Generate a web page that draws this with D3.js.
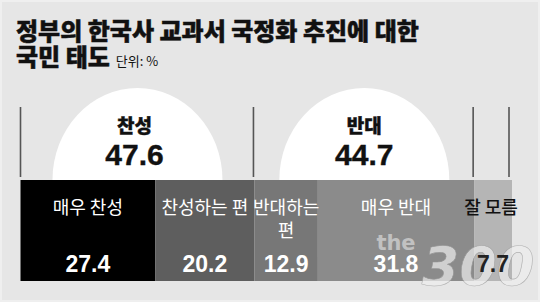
<!DOCTYPE html>
<html>
<head>
<meta charset="utf-8">
<script src="https://cdn.jsdelivr.net/npm/d3@7"></script>
<style>
  body { margin: 0; background: #e6e6e6; }
  svg { display: block; }
  .kr { font-family: "Noto Sans CJK KR", "Noto Sans", sans-serif; }
  .num { font-family: "Liberation Sans Narrow", "Liberation Sans", Arial, sans-serif; font-weight: bold; }
</style>
</head>
<body>
<div id="chart"></div>
<script>
// data
const titleLines = ["정부의 한국사 교과서 국정화 추진에 대한", "국민 태도"];
const unitLabel = "단위: %";
const categories = ["매우 찬성", "찬성하는 편", "반대하는 편", "매우 반대", "잘 모름"];
const labelLines = [["매우 찬성"], ["찬성하는 편"], ["반대하는", "편"], ["매우 반대"], ["잘 모름"]];
const values = [27.4, 20.2, 12.9, 31.8, 7.7];
const groups = ["찬성", "반대"];
const groupValues = [47.6, 44.7];
const groupMembers = [[0, 1], [2, 3]];

const segColors = ["#000000", "#5e5e5e", "#777777", "#8b8b8b", "#b5b5b5"];
const labelColors = ["#fff", "#fff", "#fff", "#fff", "#111"];
const valueColors = ["#fff", "#fff", "#fff", "#fff", "#222"];

const width = 540, height = 302;
const barTop = 180, barBottom = 281;

const svg = d3.select("#chart").append("svg")
  .attr("width", width)
  .attr("height", height);

svg.append("rect")
  .attr("x", 1).attr("y", 1)
  .attr("width", width - 2).attr("height", height - 2)
  .attr("fill", "#e6e6e6")
  .attr("stroke", "#efefef")
  .attr("stroke-width", 2);

// title (a thin stroke to get the heavy headline weight)
const title = svg.append("g").attr("class", "kr");
title.append("text")
  .attr("x", 16).attr("y", 40)
  .attr("font-size", 24).attr("font-weight", 900).attr("fill", "#111")
  .attr("stroke", "#111").attr("stroke-width", 0.5)
  .text(titleLines[0]);
const t2 = title.append("text")
  .attr("x", 16).attr("y", 66)
  .attr("font-size", 24).attr("font-weight", 900).attr("fill", "#111")
  .attr("stroke", "#111").attr("stroke-width", 0.5)
  .text(titleLines[1]);
t2.append("tspan")
  .attr("dx", 6)
  .attr("font-size", 13).attr("font-weight", "normal")
  .attr("stroke-width", 0)
  .text(unitLabel);

// stacked positions
let cum = 0;
const segs = values.map((v, i) => {
  const d = { i, v, x0: cum, x1: cum + v };
  cum += v;
  return d;
});

const x = d3.scaleLinear().domain([0, 100]).range([20.5, 512]);

// group extents
const groupExt = groupMembers.map(m => [segs[m[0]].x0, segs[m[m.length - 1]].x1]);

// white half-circles behind the bar
svg.selectAll("ellipse.bubble")
  .data(groups)
  .join("ellipse")
  .attr("class", "bubble")
  .attr("cx", (d, i) => x((groupExt[i][0] + groupExt[i][1]) / 2))
  .attr("cy", barTop)
  .attr("rx", 85)
  .attr("ry", 92)
  .attr("fill", "#fff");

// divider lines
const bounds = [0, groupExt[0][1], groupExt[1][1], 100];
svg.selectAll("line.div")
  .data(bounds)
  .join("line")
  .attr("class", "div")
  .attr("x1", (d, i) => x(d) - (i === 0 ? 0 : i === 3 ? 3 : 1))
  .attr("x2", (d, i) => x(d) - (i === 0 ? 0 : i === 3 ? 3 : 1))
  .attr("y1", 107).attr("y2", 177)
  .attr("stroke", "#555")
  .attr("stroke-width", 1.6);

// group labels
svg.selectAll("text.gname")
  .data(groups)
  .join("text")
  .attr("class", "gname kr")
  .attr("x", (d, i) => x((groupExt[i][0] + groupExt[i][1]) / 2) - (i === 0 ? 3 : 0))
  .attr("y", 133)
  .attr("text-anchor", "middle")
  .attr("font-size", 19).attr("font-weight", 900).attr("fill", "#111")
  .attr("stroke", "#111").attr("stroke-width", 0.4)
  .text(d => d);

svg.selectAll("text.gval")
  .data(groupValues)
  .join("text")
  .attr("class", "gval num")
  .attr("x", (d, i) => x((groupExt[i][0] + groupExt[i][1]) / 2) - (i === 0 ? 3 : 0))
  .attr("y", 165)
  .attr("text-anchor", "middle")
  .attr("font-size", 30).attr("fill", "#111")
  .attr("stroke", "#111").attr("stroke-width", 0.4)
  .text(d => d.toFixed(1));

// bar segments
svg.selectAll("rect.seg")
  .data(segs)
  .join("rect")
  .attr("class", "seg")
  .attr("x", d => x(d.x0))
  .attr("y", barTop)
  .attr("width", d => x(d.x1) - x(d.x0))
  .attr("height", barBottom - barTop)
  .attr("fill", d => segColors[d.i]);

// segment labels
const lbl = svg.selectAll("text.seglabel")
  .data(segs)
  .join("text")
  .attr("class", "seglabel kr")
  .attr("x", d => (x(d.x0) + x(d.x1)) / 2)
  .attr("y", 214)
  .attr("text-anchor", "middle")
  .attr("font-size", 18)
  .attr("font-weight", d => d.i === 4 ? 500 : 400)
  .attr("fill", d => labelColors[d.i]);
lbl.selectAll("tspan")
  .data(d => labelLines[d.i].map(t => ({ t, cx: (x(d.x0) + x(d.x1)) / 2 - (d.i === 4 ? 2 : 0) })))
  .join("tspan")
  .attr("x", d => d.cx)
  .attr("dy", (d, j) => j === 0 ? 0 : 23)
  .text(d => d.t);

// watermark
const wm = svg.append("g").attr("opacity", 0.7);
wm.append("text")
  .attr("x", 396).attr("y", 250)
  .attr("text-anchor", "middle")
  .attr("font-family", "DejaVu Sans, sans-serif")
  .attr("font-weight", "bold")
  .attr("font-size", 21)
  .attr("fill", "#d8d8d8")
  .text("the");
wm.append("text")
  .attr("x", 478).attr("y", 285)
  .attr("text-anchor", "middle")
  .attr("font-family", "DejaVu Sans, sans-serif")
  .attr("font-weight", "bold")
  .attr("font-style", "italic")
  .attr("font-size", 54)
  .attr("fill", "#eeeeee")
  .attr("stroke", "#999")
  .attr("stroke-width", 0.6)
  .text("300");

// segment values
svg.selectAll("text.segval")
  .data(segs)
  .join("text")
  .attr("class", "segval num")
  .attr("x", d => (x(d.x0) + x(d.x1)) / 2)
  .attr("y", 272)
  .attr("text-anchor", "middle")
  .attr("font-size", 23)
  .attr("fill", d => valueColors[d.i])
  .text(d => d.v.toFixed(1));
</script>
</body>
</html>
